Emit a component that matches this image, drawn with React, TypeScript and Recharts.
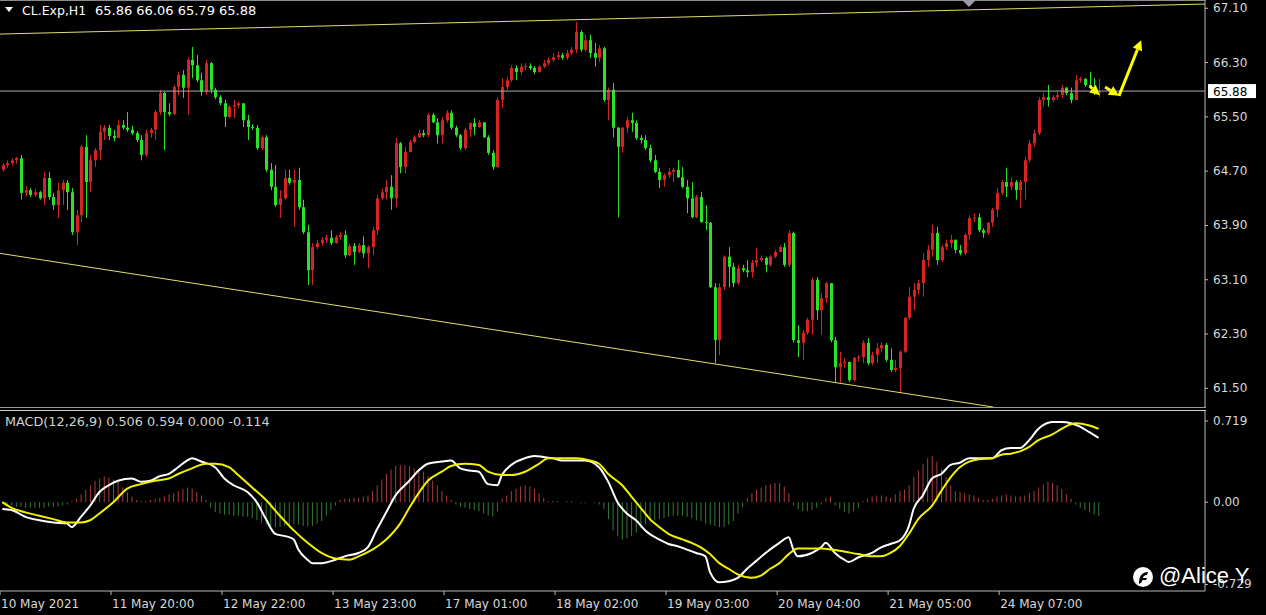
import React from 'react';
import { ComposedChart, Bar, Line, XAxis, YAxis, ReferenceLine, Cell } from 'recharts';

// CL.Exp H1 candles (open = previous close)
const firstOpen = 64.72;
const closes = [
  64.79, 64.82, 64.86, 64.89, 64.38, 64.42, 64.35, 64.39, 64.30, 64.60,
  64.32, 64.20, 64.42, 64.53, 64.39, 63.80, 64.05, 65.06, 64.54, 64.86,
  65.01, 65.28, 65.34, 65.22, 65.19, 65.38, 65.34, 65.31, 65.26, 65.16,
  64.94, 65.26, 65.31, 65.57, 65.85, 65.57, 65.54, 65.94, 66.12, 65.93,
  66.34, 66.26, 66.04, 65.87, 66.29, 65.90, 65.79, 65.70, 65.50, 65.65,
  65.67, 65.70, 65.45, 65.35, 65.34, 65.04, 65.20, 64.72, 64.47, 64.20,
  64.30, 64.60, 64.53, 64.57, 64.17, 63.80, 63.24, 63.58, 63.64, 63.69,
  63.72, 63.64, 63.73, 63.76, 63.46, 63.60, 63.51, 63.61, 63.49, 63.58,
  63.83, 64.30, 64.39, 64.47, 64.30, 65.11, 64.76, 64.98, 65.13, 65.20,
  65.26, 65.23, 65.53, 65.42, 65.23, 65.45, 65.56, 65.34, 65.23, 65.04,
  65.31, 65.41, 65.35, 65.42, 65.20, 64.97, 64.76, 65.75, 65.94, 66.04,
  66.22, 66.16, 66.24, 66.25, 66.22, 66.16, 66.24, 66.29, 66.34, 66.38,
  66.41, 66.37, 66.44, 66.49, 66.75, 66.49, 66.63, 66.44, 66.37, 66.51,
  65.75, 65.90, 65.34, 65.06, 65.34, 65.45, 65.41, 65.19, 65.16, 65.04,
  64.86, 64.69, 64.57, 64.64, 64.69, 64.72, 64.61, 64.47, 64.30, 64.02,
  64.32, 63.95, 63.94, 62.99, 62.21, 62.99, 63.44, 63.29, 63.05, 63.27,
  63.24, 63.21, 63.35, 63.39, 63.42, 63.32, 63.44, 63.51, 63.58, 63.32,
  63.79, 62.21, 62.17, 62.32, 62.51, 63.10, 62.65, 62.83, 63.05, 62.21,
  61.81, 61.87, 61.89, 61.62, 61.95, 61.96, 62.17, 61.87, 61.99, 62.09,
  62.14, 61.92, 61.77, 61.80, 62.04, 62.54, 62.85, 62.95, 63.05, 63.39,
  63.54, 63.79, 63.39, 63.58, 63.64, 63.69, 63.54, 63.49, 63.76, 64.01,
  64.02, 63.83, 63.79, 63.94, 64.13, 64.38, 64.54, 64.47, 64.54, 64.42,
  64.54, 64.86, 65.11, 65.26, 65.75, 65.79, 65.75, 65.79, 65.82, 65.93,
  65.85, 65.75, 66.04, 66.06, 65.97, 65.94, 65.86, 65.88,
];
const highs = [
  64.82, 64.86, 64.89, 64.91, 64.94, 64.48, 64.45, 64.44, 64.41, 64.69,
  64.69, 64.38, 64.53, 64.57, 64.57, 64.45, 64.13, 65.09, 65.23, 64.94,
  65.04, 65.38, 65.38, 65.38, 65.31, 65.45, 65.45, 65.57, 65.37, 65.29,
  65.23, 65.31, 65.34, 65.60, 65.90, 65.87, 65.70, 65.97, 66.16, 66.19,
  66.38, 66.53, 66.41, 66.15, 66.34, 66.31, 65.93, 65.82, 65.75, 65.67,
  65.75, 65.73, 65.70, 65.53, 65.39, 65.38, 65.23, 65.23, 64.82, 64.79,
  64.42, 64.72, 64.72, 64.72, 64.75, 64.28, 63.91, 63.64, 63.69, 63.73,
  63.76, 63.83, 63.76, 63.80, 63.83, 63.63, 63.64, 63.64, 63.74, 63.61,
  63.88, 64.35, 64.44, 64.57, 64.64, 65.19, 65.13, 65.06, 65.16, 65.23,
  65.31, 65.31, 65.56, 65.56, 65.48, 65.50, 65.60, 65.60, 65.37, 65.25,
  65.34, 65.42, 65.48, 65.45, 65.42, 65.23, 65.01, 65.79, 66.07, 66.09,
  66.26, 66.26, 66.29, 66.29, 66.29, 66.25, 66.26, 66.34, 66.38, 66.44,
  66.46, 66.44, 66.49, 66.53, 66.90, 66.78, 66.71, 66.71, 66.59, 66.56,
  66.53, 65.93, 66.00, 65.35, 65.35, 65.50, 65.56, 65.45, 65.23, 65.23,
  65.09, 64.94, 64.75, 64.67, 64.75, 64.75, 64.86, 64.76, 64.57, 64.54,
  64.35, 64.39, 64.20, 63.95, 63.05, 63.05, 63.46, 63.58, 63.35, 63.32,
  63.32, 63.39, 63.39, 63.57, 63.46, 63.44, 63.46, 63.54, 63.61, 63.64,
  63.83, 63.81, 62.43, 62.36, 62.54, 63.13, 63.14, 62.90, 63.07, 63.05,
  62.26, 62.04, 61.95, 61.89, 61.96, 61.99, 62.21, 62.24, 62.04, 62.17,
  62.18, 62.17, 62.09, 61.92, 62.06, 62.55, 62.99, 63.05, 63.10, 63.49,
  63.61, 63.91, 63.88, 63.61, 63.69, 63.76, 63.69, 63.61, 63.79, 64.05,
  64.08, 64.08, 63.86, 63.95, 64.16, 64.45, 64.57, 64.75, 64.60, 64.57,
  64.57, 64.91, 65.16, 65.31, 65.79, 65.85, 65.97, 65.82, 65.87, 65.97,
  65.94, 65.93, 66.12, 66.09, 66.07, 66.16, 66.07, 66.06,
];
const lows = [
  64.69, 64.75, 64.78, 64.81, 64.28, 64.33, 64.32, 64.32, 64.28, 64.20,
  64.28, 64.13, 64.01, 64.20, 64.13, 63.76, 63.61, 63.95, 64.01, 64.39,
  64.76, 64.86, 65.16, 65.16, 65.14, 65.19, 65.31, 65.28, 65.23, 65.13,
  64.86, 64.91, 65.19, 65.16, 65.53, 65.01, 65.51, 65.53, 65.82, 65.78,
  65.53, 66.07, 66.01, 65.81, 65.82, 65.85, 65.76, 65.67, 65.35, 65.48,
  65.48, 65.63, 65.35, 65.16, 65.31, 65.01, 65.01, 64.69, 64.42, 64.17,
  64.01, 64.28, 64.50, 63.88, 64.13, 63.77, 63.02, 63.02, 63.55, 63.60,
  63.64, 63.61, 63.63, 63.69, 63.42, 63.45, 63.32, 63.49, 63.42, 63.27,
  63.46, 63.76, 64.28, 64.28, 64.13, 64.17, 64.67, 64.67, 64.98, 65.11,
  65.19, 65.20, 65.20, 65.41, 65.11, 65.11, 65.41, 65.31, 65.20, 65.01,
  65.01, 65.20, 65.23, 65.34, 65.19, 64.94, 64.72, 64.75, 65.63, 65.90,
  66.01, 66.04, 66.12, 66.19, 66.19, 66.13, 66.15, 66.22, 66.26, 66.31,
  66.34, 66.34, 66.34, 66.41, 66.44, 66.46, 66.46, 66.37, 66.24, 66.31,
  65.72, 65.45, 65.20, 64.02, 64.97, 65.26, 65.28, 65.16, 65.11, 65.01,
  64.83, 64.67, 64.45, 64.47, 64.60, 64.54, 64.60, 64.45, 64.08, 64.01,
  64.01, 63.94, 63.83, 62.98, 61.87, 61.99, 62.95, 62.99, 62.99, 63.02,
  63.21, 63.14, 63.13, 63.29, 63.36, 63.21, 63.29, 63.42, 63.51, 63.29,
  63.29, 62.17, 61.96, 61.92, 62.29, 62.29, 62.51, 62.29, 62.76, 62.18,
  61.59, 61.58, 61.80, 61.59, 61.60, 61.89, 61.87, 61.84, 61.84, 61.87,
  62.04, 61.89, 61.74, 61.74, 61.43, 62.02, 62.51, 62.65, 62.88, 62.85,
  63.29, 63.44, 63.32, 63.36, 63.54, 63.57, 63.49, 63.46, 63.46, 63.69,
  63.95, 63.80, 63.72, 63.76, 63.88, 64.02, 64.35, 64.32, 64.42, 64.28,
  64.16, 64.28, 64.83, 65.06, 65.23, 65.65, 65.65, 65.72, 65.75, 65.78,
  65.82, 65.70, 65.75, 66.00, 65.94, 65.93, 65.82, 65.79,
];

// MACD(12,26,9): [bar, value] readings of the two lines, histogram per bar
const macdMain = [
  [0, -0.06], [2, -0.07], [5, -0.13], [8, -0.16], [11, -0.18], [14, -0.19], [15, -0.22], [17, -0.13],
  [19, -0.03], [21, 0.09], [23, 0.15], [25, 0.19], [28, 0.21], [30, 0.18], [32, 0.19], [34, 0.23],
  [36, 0.25], [38, 0.31], [40, 0.37], [41, 0.39], [43, 0.36], [46, 0.31], [48, 0.21], [50, 0.15],
  [53, 0.09], [55, 0.0], [57, -0.15], [59, -0.28], [62, -0.31], [63, -0.33], [64, -0.42], [66, -0.51],
  [67, -0.54], [69, -0.54], [72, -0.51], [74, -0.48], [77, -0.45], [79, -0.40], [81, -0.24], [83, -0.09],
  [85, 0.06], [88, 0.19], [90, 0.28], [92, 0.34], [95, 0.36], [97, 0.37], [99, 0.30], [101, 0.28],
  [103, 0.27], [105, 0.16], [107, 0.15], [108, 0.24], [110, 0.33], [113, 0.39], [115, 0.41], [117, 0.40],
  [119, 0.39], [121, 0.37], [124, 0.37], [126, 0.37], [129, 0.31], [131, 0.18], [133, 0.0], [135, -0.10],
  [137, -0.16], [139, -0.25], [142, -0.33], [144, -0.37], [146, -0.39], [148, -0.42], [150, -0.45], [152, -0.48],
  [153, -0.62], [155, -0.71], [157, -0.70], [159, -0.67], [161, -0.59], [163, -0.52], [165, -0.45], [168, -0.36],
  [170, -0.31], [171, -0.42], [172, -0.48], [175, -0.45], [177, -0.40], [178, -0.36], [180, -0.45], [182, -0.51],
  [183, -0.53], [185, -0.49], [188, -0.45], [190, -0.40], [192, -0.37], [194, -0.34], [196, -0.21], [197, -0.06],
  [199, 0.06], [201, 0.21], [203, 0.25], [205, 0.33], [207, 0.35], [209, 0.39], [211, 0.39], [214, 0.39],
  [216, 0.46], [218, 0.48], [220, 0.48], [222, 0.55], [224, 0.65], [227, 0.71], [229, 0.71], [231, 0.70],
  [233, 0.67], [235, 0.62], [237, 0.57],
];
const macdSignal = [
  [0, 0.0], [2, -0.05], [5, -0.09], [8, -0.12], [11, -0.15], [14, -0.18], [17, -0.18], [19, -0.16],
  [21, -0.10], [24, 0.0], [27, 0.12], [30, 0.16], [33, 0.19], [36, 0.21], [38, 0.25], [41, 0.30],
  [44, 0.34], [46, 0.34], [49, 0.31], [51, 0.24], [54, 0.13], [57, 0.02], [60, -0.12], [63, -0.25],
  [66, -0.36], [69, -0.45], [72, -0.50], [75, -0.51], [77, -0.48], [80, -0.42], [83, -0.33], [86, -0.19],
  [88, -0.05], [90, 0.08], [92, 0.19], [95, 0.27], [97, 0.32], [100, 0.34], [103, 0.33], [105, 0.27],
  [108, 0.24], [110, 0.24], [113, 0.27], [116, 0.34], [118, 0.39], [121, 0.39], [124, 0.39], [127, 0.37],
  [129, 0.34], [131, 0.25], [134, 0.15], [136, 0.05], [138, -0.05], [140, -0.15], [142, -0.22], [144, -0.28],
  [147, -0.33], [149, -0.36], [151, -0.40], [153, -0.46], [155, -0.54], [157, -0.59], [159, -0.64], [162, -0.67],
  [164, -0.65], [166, -0.59], [168, -0.54], [170, -0.46], [172, -0.41], [177, -0.41], [181, -0.43], [185, -0.46],
  [188, -0.48], [190, -0.48], [192, -0.45], [194, -0.39], [196, -0.28], [198, -0.15], [201, -0.03], [203, 0.10],
  [205, 0.22], [207, 0.31], [209, 0.36], [211, 0.38], [214, 0.39], [216, 0.42], [218, 0.43], [220, 0.45],
  [222, 0.49], [224, 0.55], [227, 0.60], [229, 0.65], [231, 0.69], [232, 0.70], [235, 0.68], [237, 0.65],
];
const macdHist = [
  -0.01, -0.02, -0.03, -0.04, -0.04, -0.05, -0.05, -0.05, -0.05, -0.05,
  -0.04, -0.04, -0.04, -0.03, -0.02, 0.01, 0.03, 0.07, 0.11, 0.15,
  0.19, 0.21, 0.23, 0.22, 0.2, 0.18, 0.13, 0.09, 0.05, 0.02,
  0.01, 0.01, 0.02, 0.03, 0.04, 0.05, 0.07, 0.08, 0.1, 0.12,
  0.13, 0.12, 0.09, 0.06, 0.02, -0.05, -0.09, -0.1, -0.11, -0.11,
  -0.12, -0.12, -0.13, -0.13, -0.14, -0.16, -0.18, -0.2, -0.21, -0.22,
  -0.22, -0.21, -0.2, -0.2, -0.2, -0.21, -0.21, -0.21, -0.19, -0.17,
  -0.12, -0.07, -0.03, 0.02, 0.03, 0.03, 0.04, 0.04, 0.05, 0.06,
  0.1, 0.15, 0.2, 0.25, 0.29, 0.32, 0.33, 0.33, 0.32, 0.3,
  0.29, 0.27, 0.23, 0.19, 0.15, 0.1, 0.06, 0.02, -0.02, -0.04,
  -0.05, -0.06, -0.07, -0.08, -0.1, -0.12, -0.13, -0.08, 0.03, 0.06,
  0.1, 0.12, 0.14, 0.15, 0.14, 0.12, 0.08, 0.04, 0.01, 0.01,
  0.01, 0.0, 0.01, 0.01, 0.0, -0.01, -0.01, 0.0, -0.01, -0.02,
  -0.06, -0.15, -0.25, -0.3, -0.33, -0.32, -0.3, -0.27, -0.23, -0.2,
  -0.18, -0.16, -0.15, -0.14, -0.13, -0.12, -0.12, -0.12, -0.13, -0.14,
  -0.16, -0.17, -0.19, -0.2, -0.21, -0.22, -0.22, -0.2, -0.17, -0.1,
  -0.04, 0.04, 0.08, 0.11, 0.13, 0.15, 0.16, 0.17, 0.17, 0.14,
  0.08, -0.03, -0.06, -0.08, -0.08, -0.07, -0.05, -0.02, 0.04, 0.05,
  -0.03, -0.06, -0.09, -0.1, -0.08, -0.05, 0.01, 0.03, 0.05, 0.06,
  0.06, 0.05, 0.04, 0.07, 0.1, 0.11, 0.15, 0.22, 0.28, 0.34,
  0.39, 0.41, 0.36, 0.29, 0.22, 0.15, 0.1, 0.09, 0.08, 0.07,
  0.06, 0.04, 0.02, 0.02, 0.03, 0.05, 0.06, 0.07, 0.06, 0.05,
  0.05, 0.06, 0.08, 0.1, 0.13, 0.16, 0.18, 0.17, 0.15, 0.12,
  0.07, 0.03, -0.02, -0.05, -0.07, -0.09, -0.11, -0.12,
];

const priceTicks = [67.1, 66.3, 65.5, 64.7, 63.9, 63.1, 62.3, 61.5];
const macdTicks = [0.719, 0, -0.729];
const macdTickLabels = ['0.719', '0.00', '-0.729'];
const timeTickBars = [0, 24, 48, 72, 96, 120, 144, 168, 192, 216];
const timeLabels = [
  '10 May 2021', '11 May 20:00', '12 May 22:00', '13 May 23:00', '17 May 01:00',
  '18 May 02:00', '19 May 03:00', '20 May 04:00', '21 May 05:00', '24 May 07:00',
];
const bid = 65.88;

// drawn objects: trend lines and the yellow arrows ([bar, price] end points)
const trendLines = [
  [[-0.5, 66.72], [260, 67.163]],
  [[-0.5, 63.489], [214.2, 61.225]],
];
const arrows = [
  [[235.1, 65.95], [237.3, 65.82]],
  [[238.4, 65.94], [241.4, 65.81]],
  [[241.4, 65.81], [246.2, 66.63]],
];

const UP = '#d42424';
const DOWN = '#29e329';
const AXIS = '#b8b8b8';
const TXT = '#d8d8d8';
const FONT = '"DejaVu Sans", Verdana, sans-serif';

const priceRows = closes.map((c, i) => ({
  bar: i,
  open: i === 0 ? firstOpen : closes[i - 1],
  high: highs[i],
  low: lows[i],
  close: c,
}));

const mainAt = new Map(macdMain.map(([b, v]) => [b, v]));
const sigAt = new Map(macdSignal.map(([b, v]) => [b, v]));
const macdRows = macdHist.map((h, i) => ({
  bar: i,
  hist: h,
  main: mainAt.has(i) ? mainAt.get(i) : null,
  signal: sigAt.has(i) ? sigAt.get(i) : null,
}));

// eslint-disable-next-line @typescript-eslint/no-explicit-any
const Candle = (props: any) => {
  const { x, y, width, height } = props;
  const d = props.payload || props;
  const top = Math.min(y, y + height);
  const h = Math.abs(height);
  const ppu = h / (d.high - d.low || 1);
  const yOf = (v: number) => top + (d.high - v) * ppu;
  const color = d.close >= d.open ? UP : DOWN;
  const cx = Math.round(x + width / 2);
  const bTop = yOf(Math.max(d.open, d.close));
  const bBot = yOf(Math.min(d.open, d.close));
  return (
    <g>
      <line x1={cx + 0.5} x2={cx + 0.5} y1={top} y2={top + h} stroke={color} strokeWidth={1} />
      <rect x={cx - 1} y={bTop} width={3} height={Math.max(1, bBot - bTop)} fill={color} />
    </g>
  );
};

// eslint-disable-next-line @typescript-eslint/no-explicit-any
const Arrow = (props: any) => {
  const { x1, y1, x2, y2 } = props;
  const a = Math.atan2(y2 - y1, x2 - x1);
  const len = 10;
  const half = 5;
  const bx = x2 - len * Math.cos(a);
  const by = y2 - len * Math.sin(a);
  const px = -Math.sin(a) * half;
  const py = Math.cos(a) * half;
  return (
    <g>
      <line x1={x1} y1={y1} x2={bx} y2={by} stroke="#ffff00" strokeWidth={3} />
      <polygon points={`${x2},${y2} ${bx + px},${by + py} ${bx - px},${by - py}`} fill="#ffff00" />
    </g>
  );
};

// eslint-disable-next-line @typescript-eslint/no-explicit-any
const PriceTick = ({ x, y, payload }: any) => (
  <text x={x} y={y} dy={4} fill={TXT} fontSize={12} fontFamily={FONT} textAnchor="start">
    {Number(payload.value).toFixed(2)}
  </text>
);

// eslint-disable-next-line @typescript-eslint/no-explicit-any
const MacdTick = ({ x, y, payload }: any) => (
  <text x={x} y={y} dy={4} fill={TXT} fontSize={12} fontFamily={FONT} textAnchor="start">
    {macdTickLabels[macdTicks.indexOf(payload.value)]}
  </text>
);

// eslint-disable-next-line @typescript-eslint/no-explicit-any
const TimeTick = ({ x, y, payload }: any) => {
  const idx = timeTickBars.indexOf(payload.value + 0.5);
  return (
    <text x={x + 1} y={y + 11} fill={TXT} fontSize={12} fontFamily={FONT} textAnchor="start">
      {timeLabels[idx]}
    </text>
  );
};

// eslint-disable-next-line @typescript-eslint/no-explicit-any
const BidLabel = ({ viewBox }: any) => {
  const x = viewBox.x + viewBox.width + 3;
  const y = viewBox.y;
  return (
    <g>
      <rect x={x} y={y - 7} width={48} height={14} fill="#ffffff" />
      <text x={x + 5} y={y + 5} fill="#000000" fontSize={12} fontFamily={FONT}>{bid.toFixed(2)}</text>
    </g>
  );
};

export default function App() {
  return (
    <div style={{ position: 'fixed', left: 0, top: 0, width: 1266, height: 615, background: '#000', overflow: 'hidden' }}>
      <div style={{ position: 'absolute', left: 0, top: 0 }}>
        <ComposedChart width={1266} height={407} data={priceRows} margin={{ top: 0, right: 0, bottom: 0, left: 0 }}>
          <XAxis type="number" dataKey="bar" domain={[-0.5, 260]} allowDataOverflow hide />
          <YAxis
            orientation="right"
            width={61}
            domain={[61.225, 67.222]}
            allowDataOverflow
            ticks={priceTicks}
            interval={0}
            axisLine={{ stroke: AXIS }}
            tickLine={{ stroke: AXIS }}
            tickSize={3}
            tickMargin={5}
            tick={<PriceTick />}
          />
          <ReferenceLine y={bid} stroke="#a8a8a8" strokeWidth={1} label={BidLabel} />
          {trendLines.map((s, i) => (
            <ReferenceLine
              key={`t${i}`}
              segment={[{ x: s[0][0], y: s[0][1] }, { x: s[1][0], y: s[1][1] }]}
              stroke="#dede72"
              strokeWidth={1}
              ifOverflow="visible"
            />
          ))}
          <Bar dataKey={(d: { low: number; high: number }) => [d.low, d.high]} barSize={3} shape={<Candle />} isAnimationActive={false} />
          {arrows.map((s, i) => (
            <ReferenceLine
              key={`a${i}`}
              segment={[{ x: s[0][0], y: s[0][1] }, { x: s[1][0], y: s[1][1] }]}
              shape={Arrow}
              ifOverflow="visible"
            />
          ))}
        </ComposedChart>
      </div>

      <div style={{ position: 'absolute', left: 0, top: 410 }}>
        <ComposedChart width={1266} height={205} data={macdRows} margin={{ top: 1, right: 0, bottom: 0, left: 0 }}>
          <XAxis
            type="number"
            dataKey="bar"
            domain={[-0.5, 260]}
            allowDataOverflow
            ticks={timeTickBars.map((b) => b - 0.5)}
            interval={0}
            height={24}
            axisLine={{ stroke: AXIS }}
            tickLine={{ stroke: AXIS }}
            tickSize={4}
            tick={<TimeTick />}
          />
          <YAxis
            orientation="right"
            width={61}
            domain={[-0.787, 0.808]}
            allowDataOverflow
            ticks={macdTicks}
            interval={0}
            axisLine={{ stroke: AXIS }}
            tickLine={{ stroke: AXIS }}
            tickSize={3}
            tickMargin={5}
            tick={<MacdTick />}
          />
          <Bar dataKey="hist" barSize={1} isAnimationActive={false}>
            {macdRows.map((r, i) => (
              <Cell key={i} fill={r.hist >= 0 ? '#a83c3c' : '#347a34'} />
            ))}
          </Bar>
          <Line dataKey="main" type="monotone" stroke="#ffffff" strokeWidth={2} dot={false} connectNulls isAnimationActive={false} />
          <Line dataKey="signal" type="monotone" stroke="#f2f200" strokeWidth={2} dot={false} connectNulls isAnimationActive={false} />
        </ComposedChart>
      </div>

      {/* panel frames */}
      <div style={{ position: 'absolute', left: 0, top: 0, width: 1206, height: 1, background: '#8a8a8a' }} />
      <div style={{ position: 'absolute', left: 0, top: 407, width: 1206, height: 1, background: '#9a9a9a' }} />
      <div style={{ position: 'absolute', left: 0, top: 410, width: 1206, height: 1, background: '#d0d0d0' }} />
      <svg style={{ position: 'absolute', left: 962, top: 0 }} width={14} height={7}>
        <polygon points="0,0 14,0 7,7" fill="#9a9aa8" />
      </svg>

      {/* header */}
      <svg style={{ position: 'absolute', left: 5, top: 7 }} width={8} height={6}>
        <polygon points="0,0 8,0 4,5" fill="#ffffff" />
      </svg>
      <div style={{ position: 'absolute', left: 22, top: 3, color: '#ffffff', fontFamily: FONT, fontSize: 12.5, whiteSpace: 'pre', lineHeight: '16px' }}>
        CL.Exp,H1
      </div>
      <div style={{ position: 'absolute', left: 95, top: 3, color: '#ffffff', fontFamily: FONT, fontSize: 13, whiteSpace: 'pre', lineHeight: '16px' }}>
        65.86 66.06 65.79 65.88
      </div>
      <div style={{ position: 'absolute', left: 5, top: 414, color: '#d0d0d0', fontFamily: FONT, fontSize: 12.8, whiteSpace: 'pre', lineHeight: '16px' }}>
        MACD(12,26,9) 0.506 0.594 0.000 -0.114
      </div>

      {/* watermark */}
      <svg style={{ position: 'absolute', left: 1132, top: 566 }} width={22} height={22}>
        <circle cx={11} cy={11} r={10} fill="#ffffff" />
        <path d="M7 17 C7 10 10 6 16 6 L15 9 C12 9 11 11 11 12 L15 12 L14 14 L10.5 14 C10 16 9 17 7 18 Z" fill="#000000" />
      </svg>
      <div style={{ position: 'absolute', left: 1159, top: 563, color: '#ffffff', fontFamily: '"Liberation Sans", Arial, sans-serif', fontSize: 22, lineHeight: '26px', whiteSpace: 'pre' }}>
        @Alice Y
      </div>
    </div>
  );
}
